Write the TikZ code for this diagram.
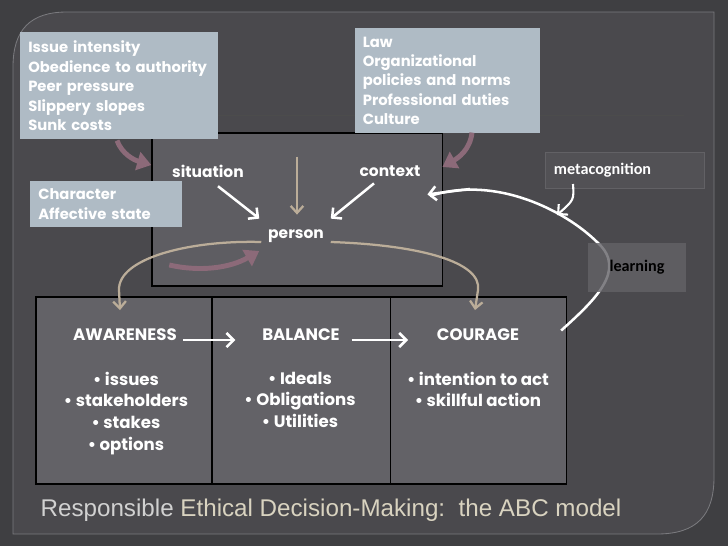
\documentclass[tikz,border=0pt]{standalone}
\usepackage{fontspec}
\setmainfont{Poppins}
\newfontfamily\calib{Carlito}
\newfontfamily\titlefont{Liberation Sans}
\usetikzlibrary{arrows.meta,calc,positioning}
\definecolor{bgdark}{HTML}{3F3F42}
\definecolor{framefill}{HTML}{4A494D}
\definecolor{frameline}{HTML}{7A7A7E}
\definecolor{panelfill}{HTML}{5E5D62}
\definecolor{cellfill}{HTML}{636267}
\definecolor{metafill}{HTML}{525155}
\definecolor{metaline}{HTML}{626165}
\definecolor{boxblue}{HTML}{AFBBC5}
\definecolor{mauve}{HTML}{8C6A79}
\definecolor{tan}{HTML}{BBAD99}
\definecolor{titlebeige}{HTML}{D9D3C0}
\tikzset{
  infobox/.style={
      fill=boxblue,
      text=white,
      anchor=north west,
      align=left,
      inner xsep=0.18cm,
      font=\bfseries\fontsize{10.5}{13.8}\selectfont
  },
  greybox/.style={
      fill=#1,
      anchor=north west,
      inner sep=0pt,
      outer sep=0pt
  },
  cell/.style={
      greybox=cellfill,
      draw=black,
      line width=0.8pt,
      minimum height=4.675cm
  },
  word/.style={
      text=white,
      font=\bfseries\fontsize{11}{13}\selectfont
  },
  stage/.style={
      word,
      font=\bfseries\fontsize{11.8}{13}\selectfont
  },
  points/.style={
      word,
      align=center,
      anchor=north,
      font=\bfseries\fontsize{11.8}{15.4}\selectfont
  },
  whitearrow/.style={
      draw=white,
      line width=1.8pt,
      -{Straight Barb[length=5pt,width=10pt]}
  },
  mauvearrow/.style={
      draw=mauve,
      line width=3.5pt,
      -{Triangle[length=10pt,width=13pt]}
  },
  tanarrow/.style={
      draw=tan,
      line width=1.6pt,
      -{Straight Barb[length=5pt,width=9pt]}
  }
}
\begin{document}
\begin{tikzpicture}[x=0.025cm,y=-0.025cm]
\useasboundingbox (0,0) rectangle (728,546);
\fill[bgdark] (0,0) rectangle (728,546);
% slide frame
\draw[frameline,fill=framefill,line width=0.6pt] (13,534) -- (13,67)
  .. controls (13,30) and (30,12) .. (67,12) -- (714,12) -- (714,477)
  .. controls (714,515) and (697,534) .. (657,534) -- cycle;
\draw[black!70,line width=0.5pt] (152,115) -- (684,115);

% person panel
\node[greybox=panelfill,draw=black,line width=0.8pt,minimum width=7.25cm,minimum height=3.825cm]
  (panel) at (152,133) {};

% ABC table
\node[cell,minimum width=4.4cm] (cellA) at (36,297) {};
\node[cell,minimum width=4.45cm] (cellB) at (cellA.north east) {};
\node[cell,minimum width=4.4cm] (cellC) at (cellB.north east) {};

\node[stage] (awareness) at (125,335) {AWARENESS};
\node[stage] (balance) at (301,335) {BALANCE};
\node[stage] (courage) at (478,335) {COURAGE};
\node[points] (listA) at (126,367) {• issues\\• stakeholders\\• stakes\\• options};
\node[points] (listB) at (300,367) {• Ideals\\• Obligations\\• Utilities};
\node[points] (listC) at (478,367) {• intention to act\\• skillful action};

\draw[whitearrow] ($(awareness.east)+(1,5)$) -- ($(balance.west)+(-22,5)$);
\draw[whitearrow] ($(balance.east)+(7,5)$) -- ($(courage.west)+(-24,5)$);

% influences
\node[infobox,minimum width=4.95cm,minimum height=2.675cm,text width=4.55cm] (sitbox) at (20,32)
  {Issue intensity\\Obedience to authority\\Peer pressure\\Slippery slopes\\Sunk costs};
\node[infobox,minimum width=4.625cm,minimum height=2.625cm,text width=4.25cm] (ctxbox) at (355,28)
  {Law\\Organizational\\policies and norms\\Professional duties\\Culture};
\node[infobox,minimum width=3.8cm,minimum height=1.15cm,text width=3.4cm] (charbox) at (30,181)
  {Character\\Affective state};

\node[word] (situation) at (208,171) {situation};
\node[word] (context) at (390,171) {context};
\node[word] (person) at (296,236) {person};

\draw[whitearrow] ($(situation.south)+(10,4)$) -- ($(person.north west)+(-4,-6)$);
\draw[whitearrow] ($(context.south)+(-16,2)$) -- ($(person.north east)+(2,-6)$);
\draw[tanarrow] ($(person.north)+(1,-68)$) -- ($(person.north)+(1,-10)$);

\draw[mauvearrow] ($(sitbox.south west)+(97,1)$) .. controls (122,154) and (134,160) .. ($(situation.west)+(-16,-6)$);
\draw[mauvearrow] ($(ctxbox.south west)+(117,-1)$) .. controls (470,150) and (458,158) .. ($(context.east)+(17,-4)$);
\draw[mauvearrow] ($(person.west)+(-94,29)$) .. controls (200,272) and (230,268) .. ($(person.west)+(-4,15)$);

\draw[tanarrow] ($(person.west)+(-2,6)$) .. controls (190,240) and (118,258) .. (119,290)
  -- ($(awareness.north)+(-5,-14)$);
\draw[tanarrow] ($(person.east)+(2,6)$) .. controls (420,245) and (482,262) .. (478,290)
  -- ($(courage.north)+(-3,-14)$);

% learning loop
\node[greybox=metafill,draw=metaline,line width=0.5pt,minimum width=3.975cm,minimum height=0.9cm]
  (metacog) at (545,152) {};
\node[anchor=west,text=white,font=\calib\bfseries\fontsize{11.5}{13}\selectfont] (metatext)
  at ($(metacog.west)+(4,0)$) {metacognition};
\draw[white,line width=1.8pt] ($(cellC.east)+(-5,-60)$) .. controls (595,300) and (627,270) .. (598,243)
  .. controls (565,210) and (495,175) .. (430,196);
\draw[whitearrow] (470,189) -- ($(context.south east)+(2,13)$);
\node[greybox=cellfill,opacity=0.8,minimum width=2.45cm,minimum height=1.225cm] (learning) at (588,243) {};
\node[text=black,font=\calib\bfseries\fontsize{11.5}{13}\selectfont] (learntext) at (learning.center) {learning};
\draw[whitearrow,line width=1.5pt] ($(metacog.south west)+(28,-4)$) .. controls (574,200) .. (557,215);

% title
\node[font=\titlefont\fontsize{17.2}{19}\selectfont,text=white!82!black] (title) at (331,510)
  {Responsible \textcolor{titlebeige}{Ethical Decision-Making:\ \ the ABC model}};
\end{tikzpicture}
\end{document}
